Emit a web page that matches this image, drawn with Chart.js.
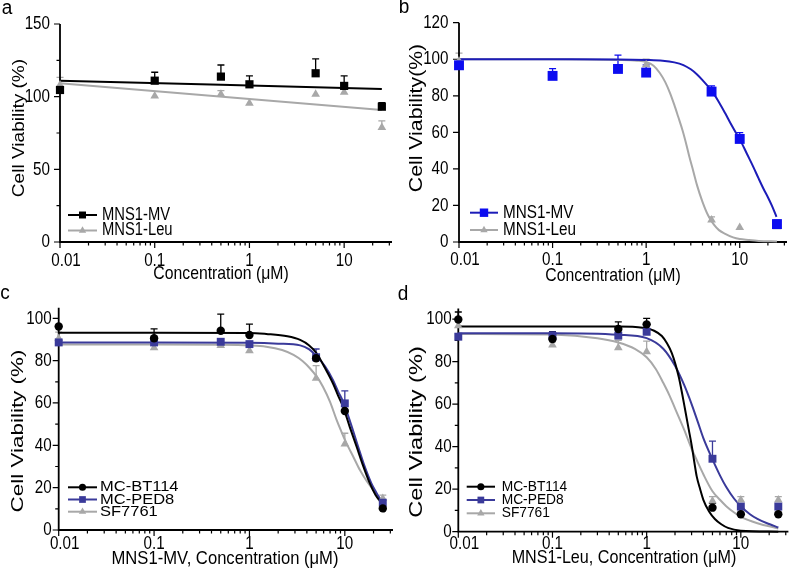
<!DOCTYPE html>
<html>
<head>
<meta charset="utf-8">
<script src="https://cdn.jsdelivr.net/npm/chart.js@4.4.1/dist/chart.umd.min.js"></script>
<style>
    html, body { margin: 0; padding: 0; background: #fff; }
    #wrap { position: relative; width: 794px; height: 571px; }
    canvas { position: absolute; left: 0; top: 0; }
</style>
</head>
<body>
<div id="wrap">
    <canvas id="pa" width="794" height="571"></canvas>
    <canvas id="pb" width="794" height="571"></canvas>
    <canvas id="pc" width="794" height="571"></canvas>
    <canvas id="pd" width="794" height="571"></canvas>
</div>
<script>
// ---- Data ----
const conc = [0.01, 0.1, 0.5, 1, 5, 10, 25];
const xTickValues = [0.01, 0.1, 1, 10];
const xTickLabels = ['0.01', '0.1', '1', '10'];

// a
const aMv = [104.6, 111, 113.8, 108.5, 116.1, 107.4, 93.1];
const aMvErr = [0, 5.8, 8, 5.8, 9.9, 6.9, 2.8];
const aLeu = [108, 100.5, 101.6, 95.4, 101.6, 103, 78.7];
const aLeuErr = [5.3, 0, 2.5, 0, 0, 2.1, 4.6];
const aFitX = [0.01, 25];
const aMvFit = [111, 105.3];
const aLeuFit = [109.2, 90.8];

// b
const bMv = [96.7, 90.9, 94.7, 92.7, 82.3, 56.4, 9.8];
const bMvErr = [0, 4, 7.6, 4.2, 3.1, 3.4, 2.2];
const bLeu = [99, 91, 95, 97, 12, 8, 8.3];
const bLeuErr = [4.3, 0, 0, 3, 1.8, 0, 0];
const bMvFitX = [0.01, 0.1, 0.5, 1, 1.5, 2, 2.5, 3, 3.5, 4, 5, 6, 7, 8, 9, 10, 12, 14, 16, 18, 20, 22, 24.7];
const bMvFit = [100, 100, 99.9, 99.6, 99.2, 98.3, 96.8, 94.5, 91.7, 88.6, 82.8, 76.5, 70.4, 64.8, 60.2, 56.3, 48, 41, 34.5, 29, 24.5, 20, 13.8];
const bLeuFitX = [0.01, 0.1, 0.5, 0.8, 1, 1.2, 1.4, 1.6, 1.8, 2, 2.2, 2.45, 2.7, 2.9, 3.2, 3.5, 4, 4.6, 5.3, 6, 7, 8.5, 10, 12.3, 16, 25];
const bLeuFit = [100, 100, 99.6, 99.2, 98.5, 96.5, 92.5, 87.5, 81.5, 75, 68.5, 61, 53, 46.5, 38.5, 31, 22, 14.5, 9.5, 6.5, 4.5, 2.5, 1.6, 1.1, 0.6, 0.3];

// c
const cBt = [96.1, 90.6, 94.1, 92.1, 81.1, 56.2, 10.2];
const cBtErr = [0, 4.4, 7.9, 5.1, 0, 0, 0];
const cPed = [88.6, 88.6, 88.9, 87.8, 81.6, 59.8, 12.9];
const cPedErr = [0, 0, 0, 0, 3.9, 5.9, 0];
const cSf = [90.5, 86.1, 87.2, 84.7, 71.7, 40.6, 14.9];
const cSfErr = [3, 0, 0, 0, 5.9, 5.1, 1.6];
const cBtFitX = [0.01, 0.1, 1, 1.5, 2.5, 3.4, 4.2, 5.06, 6.2, 7.5, 8.5, 9.6, 11.3, 13.3, 15.5, 18.3, 21, 24.3];
const cBtFit = [93.2, 93.2, 93.1, 92.6, 91.5, 89.8, 87.3, 83.5, 76.5, 69.3, 63.5, 58.2, 48.5, 39.3, 30.5, 22, 16.5, 12.6];
const cPedFitX = [0.01, 0.1, 1, 2, 3.4, 4.2, 4.9, 6.2, 7.5, 8.5, 9.6, 11.5, 13.8, 16, 19, 21.5, 24.3];
const cPedFit = [88.6, 88.6, 88.4, 88, 87.2, 85.4, 82.7, 77.3, 70.9, 65.5, 60.6, 50.5, 39.3, 30.5, 22, 17.5, 13.4];
const cSfFitX = [0.01, 0.1, 0.5, 1, 1.5, 2.2, 2.9, 3.6, 4.3, 5.1, 5.9, 7, 8.2, 9.3, 10.4, 12.3, 14.4, 17, 19.9, 24];
const cSfFit = [87.6, 87.6, 87.5, 87.2, 86.6, 85, 82.7, 79.8, 76.4, 72.3, 67.7, 60.5, 52, 46, 41, 34.5, 28.3, 23, 18.9, 14.2];

// d
const dBt = [99.8, 90.6, 95.3, 97.5, 11.3, 8.2, 8.2];
const dBtErr = [3.5, 3.5, 3.4, 2.8, 2, 0, 0];
const dPed = [91.7, 92, 92.2, 94, 34.3, 11.8, 11.8];
const dPedErr = [0, 2, 0, 0, 8.3, 0, 0];
const dSf = [96.9, 87.8, 86.5, 84.6, 14.4, 14.9, 14.9];
const dSfErr = [0, 1.5, 3.5, 5, 2.1, 1.6, 1.6];
const dBtFitX = [0.01, 0.1, 0.5, 0.91, 1.2, 1.45, 1.65, 1.85, 2.02, 2.2, 2.38, 2.57, 2.8, 3.01, 3.2, 3.4, 3.7, 4, 4.6, 5.3, 6.2, 7.3, 10, 25];
const dBtFit = [96.5, 96.5, 96.5, 95.9, 94.5, 92, 88.5, 84, 78.8, 72.5, 65, 57, 48, 40.5, 33, 26, 20, 15, 9.5, 6, 3.5, 1.8, 0.5, 0];
const dPedFitX = [0.01, 0.1, 0.5, 1, 1.5, 2, 2.5, 3, 3.5, 4, 5, 6, 7, 8.5, 10, 12.5, 15, 20, 25];
const dPedFit = [93.3, 93.3, 92.6, 91, 86, 78, 69, 60, 51.5, 44, 34, 26.5, 21, 15.5, 12, 8.2, 6, 3.6, 2];
const dSfFitX = [0.01, 0.1, 0.3, 0.5, 0.75, 1, 1.25, 1.5, 1.75, 2, 2.5, 3, 3.5, 4, 5, 6, 7, 8.5, 10, 15, 25];
const dSfFit = [93, 92.7, 91, 89, 86, 82, 76.5, 70, 64, 58, 48, 39, 32.5, 27, 19, 15, 12, 9, 7, 4, 1.5];

const BLACK = '#000000';
const GRAY = '#a8a8a8';
const NAVY = '#3a3a9a';
const FONT = '"Liberation Sans", Arial, sans-serif';

// ---- Panels ----
const panels = [
    {
        id: 'pa', letter: 'a', letterPos: [7, 8],
        box: { left: 60, right: 392, top: 24, bottom: 242 },
        yMax: 150, yMajor: [0, 50, 100, 150], yMinor: [25, 75, 125],
        yLabelRight: 50, xLabelY: 261,
        xTitle: 'Concentration (\u03bcM)', xTitlePos: [221, 274], xTitleSx: 0.83,
        yTitle: 'Cell Viability (%)', yTitlePos: [19, 128], yTitleSize: 17, yTitleSx: 1.12,
        legend: { x1: 68, x2: 97, tx: 102, ys: [215, 230.5], size: 18, sx: 0.82 },
        series: [
            { name: 'MNS1-MV', y: aMv, err: aMvErr, fitX: aFitX, fit: aMvFit, color: BLACK, line: BLACK, style: 'rect', r: 5.8 },
            { name: 'MNS1-Leu', y: aLeu, err: aLeuErr, fitX: aFitX, fit: aLeuFit, color: GRAY, line: GRAY, style: 'triangle', r: 5 }
        ]
    },
    {
        id: 'pb', letter: 'b', letterPos: [404, 7],
        box: { left: 459, right: 793, top: 22.7, bottom: 242 },
        yMax: 120, yMajor: [0, 20, 40, 60, 80, 100, 120], yMinor: [],
        yLabelRight: 448.5, xLabelY: 260,
        xTitle: 'Concentration (\u03bcM)', xTitlePos: [613, 276], xTitleSx: 0.83,
        yTitle: 'Cell Viability(%)', yTitlePos: [417, 118], yTitleSize: 18, yTitleSx: 1.18,
        legend: { x1: 470, x2: 498, tx: 503, ys: [212.7, 230], size: 18, sx: 0.85 },
        series: [
            { name: 'MNS1-MV', y: bMv, err: bMvErr, fitX: bMvFitX, fit: bMvFit, color: '#0c0cf0', line: '#1c1cb8', style: 'rect', r: 7 },
            { name: 'MNS1-Leu', y: bLeu, err: bLeuErr, fitX: bLeuFitX, fit: bLeuFit, color: GRAY, line: GRAY, style: 'triangle', r: 5 }
        ]
    },
    {
        id: 'pc', letter: 'c', letterPos: [5, 293],
        box: { left: 58.7, right: 393, top: 307.7, bottom: 530 },
        yMax: 105, yMajor: [0, 20, 40, 60, 80, 100], yMinor: [10, 30, 50, 70, 90],
        yLabelRight: 51.7, xLabelY: 543.3,
        xTitle: 'MNS1-MV, Concentration (\u03bcM)', xTitlePos: [225, 558.3], xTitleSx: 0.875,
        yTitle: 'Cell Viability (%)', yTitlePos: [18.5, 431], yTitleSize: 17, yTitleSx: 1.32,
        legend: { x1: 68, x2: 97, tx: 100, ys: [487.3, 499.5, 511.7], size: 15, sx: 1.1 },
        series: [
            { name: 'MC-BT114', y: cBt, err: cBtErr, fitX: cBtFitX, fit: cBtFit, color: BLACK, line: BLACK, style: 'circle', r: 4.2 },
            { name: 'MC-PED8', y: cPed, err: cPedErr, fitX: cPedFitX, fit: cPedFit, color: NAVY, line: NAVY, style: 'rect', r: 5.6 },
            { name: 'SF7761', y: cSf, err: cSfErr, fitX: cSfFitX, fit: cSfFit, color: GRAY, line: GRAY, style: 'triangle', r: 5 }
        ]
    },
    {
        id: 'pd', letter: 'd', letterPos: [403, 294],
        box: { left: 458.3, right: 790.6, top: 308.4, bottom: 531.7 },
        yMax: 105, yMajor: [0, 20, 40, 60, 80, 100], yMinor: [10, 30, 50, 70, 90],
        yLabelRight: 451.7, xLabelY: 543.3,
        xTitle: 'MNS1-Leu, Concentration (\u03bcM)', xTitlePos: [624, 558], xTitleSx: 0.85,
        yTitle: 'Cell Viability (%)', yTitlePos: [417.5, 432], yTitleSize: 17.5, yTitleSx: 1.35,
        legend: { x1: 466.7, x2: 495, tx: 501.7, ys: [486.7, 500, 513.3], size: 14.5, sx: 0.95 },
        series: [
            { name: 'MC-BT114', y: dBt, err: dBtErr, fitX: dBtFitX, fit: dBtFit, color: BLACK, line: BLACK, style: 'circle', r: 4.2 },
            { name: 'MC-PED8', y: dPed, err: dPedErr, fitX: dPedFitX, fit: dPedFit, color: NAVY, line: NAVY, style: 'rect', r: 5.6 },
            { name: 'SF7761', y: dSf, err: dSfErr, fitX: dSfFitX, fit: dSfFit, color: GRAY, line: GRAY, style: 'triangle', r: 5 }
        ]
    }
];

// ---- Drawing helpers ----
function text(ctx, str, x, y, o) {
    ctx.save();
    ctx.translate(x, y);
    if (o.rot) ctx.rotate(-Math.PI / 2);
    ctx.scale(o.sx || 1, 1);
    ctx.font = `${o.size}px ${FONT}`;
    ctx.fillStyle = '#000';
    ctx.textAlign = o.align || 'center';
    ctx.textBaseline = 'middle';
    ctx.fillText(str, 0, 0);
    ctx.restore();
}

function marker(ctx, style, x, y, r, color) {
    ctx.save();
    ctx.fillStyle = color;
    ctx.beginPath();
    if (style === 'rect') {
        const s = r * Math.SQRT1_2;
        ctx.rect(x - s, y - s, 2 * s, 2 * s);
    } else if (style === 'triangle') {
        ctx.moveTo(x, y - r);
        ctx.lineTo(x + r * 0.866, y + r * 0.5);
        ctx.lineTo(x - r * 0.866, y + r * 0.5);
        ctx.closePath();
    } else {
        ctx.arc(x, y, r, 0, Math.PI * 2);
    }
    ctx.fill();
    ctx.restore();
}

function minorXTicks(min, max) {
    const out = [];
    for (let e = -2; e <= 1; e++) {
        for (let m = 2; m <= 9; m++) {
            const v = m * Math.pow(10, e);
            if (v > min && v <= max) out.push(v);
        }
    }
    return out;
}

function decor(p) {
    return {
        id: 'decor_' + p.id,
        beforeDatasetsDraw(chart) {
            const ctx = chart.ctx;
            const xs = chart.scales.x, ys = chart.scales.y;
            const x0 = xs.getPixelForValue(xs.min), x1 = xs.getPixelForValue(xs.max);
            const y0 = ys.getPixelForValue(0), y1 = ys.getPixelForValue(p.yMax);

            // error bars (upper only)
            ctx.save();
            ctx.lineWidth = 1.3;
            p.series.forEach(s => {
                ctx.strokeStyle = s.color;
                s.err.forEach((e, i) => {
                    if (!e) return;
                    const px = xs.getPixelForValue(conc[i]);
                    const py = ys.getPixelForValue(s.y[i]);
                    const pt = ys.getPixelForValue(s.y[i] + e);
                    ctx.beginPath();
                    ctx.moveTo(px, py);
                    ctx.lineTo(px, pt);
                    ctx.moveTo(px - 3.5, pt);
                    ctx.lineTo(px + 3.5, pt);
                    ctx.stroke();
                });
            });
            ctx.restore();

            // axes
            ctx.save();
            ctx.strokeStyle = '#000';
            ctx.lineWidth = 1.8;
            ctx.beginPath();
            ctx.moveTo(x0, y1);
            ctx.lineTo(x0, y0);
            ctx.lineTo(x1, y0);
            ctx.stroke();
            ctx.lineWidth = 1.2;
            ctx.beginPath();
            p.yMajor.forEach(v => {
                const y = ys.getPixelForValue(v);
                ctx.moveTo(x0, y); ctx.lineTo(x0 - 6, y);
            });
            p.yMinor.forEach(v => {
                const y = ys.getPixelForValue(v);
                ctx.moveTo(x0, y); ctx.lineTo(x0 - 3.5, y);
            });
            xTickValues.forEach(v => {
                const x = xs.getPixelForValue(v);
                ctx.moveTo(x, y0); ctx.lineTo(x, y0 + 6);
            });
            minorXTicks(xs.min, xs.max).forEach(v => {
                const x = xs.getPixelForValue(v);
                ctx.moveTo(x, y0); ctx.lineTo(x, y0 + 3.5);
            });
            ctx.stroke();
            ctx.restore();
        },
        afterDraw(chart) {
            const ctx = chart.ctx;
            const xs = chart.scales.x, ys = chart.scales.y;

            p.yMajor.forEach(v => {
                text(ctx, String(v), p.yLabelRight, ys.getPixelForValue(v), { size: 19, sx: 0.8, align: 'right' });
            });
            xTickValues.forEach((v, i) => {
                const shift = i === 0 ? 6 : 0;
                text(ctx, xTickLabels[i], xs.getPixelForValue(v) + shift, p.xLabelY, { size: 19, sx: 0.8 });
            });
            text(ctx, p.xTitle, p.xTitlePos[0], p.xTitlePos[1], { size: 19, sx: p.xTitleSx });
            text(ctx, p.yTitle, p.yTitlePos[0], p.yTitlePos[1], { size: p.yTitleSize, sx: p.yTitleSx, rot: true });
            text(ctx, p.letter, p.letterPos[0], p.letterPos[1], { size: 20, sx: 0.95 });

            // legend
            const L = p.legend;
            p.series.forEach((s, i) => {
                const y = L.ys[i];
                ctx.save();
                ctx.strokeStyle = s.line;
                ctx.lineWidth = 2;
                ctx.beginPath();
                ctx.moveTo(L.x1, y);
                ctx.lineTo(L.x2, y);
                ctx.stroke();
                ctx.restore();
                marker(ctx, s.style, (L.x1 + L.x2) / 2, y, s.r * 0.85, s.color);
                text(ctx, s.name, L.tx, y, { size: L.size, sx: L.sx, align: 'left' });
            });
        }
    };
}

function makePanel(p) {
    const datasets = [];
    p.series.forEach((s, i) => {
        datasets.push({
            label: s.name,
            data: conc.map((x, j) => ({ x: x, y: s.y[j] })),
            showLine: false,
            pointStyle: s.style,
            pointRadius: s.r,
            pointBackgroundColor: s.color,
            pointBorderColor: s.color,
            pointBorderWidth: 0,
            order: i,
            clip: false
        });
        datasets.push({
            label: s.name + ' fit',
            data: s.fitX.map((x, j) => ({ x: x, y: s.fit[j] })),
            borderColor: s.line,
            borderWidth: 2,
            pointRadius: 0,
            cubicInterpolationMode: 'monotone',
            fill: false,
            order: 10 + i,
            clip: false
        });
    });

    new Chart(document.getElementById(p.id), {
        type: 'line',
        data: { datasets },
        options: {
            responsive: false,
            animation: false,
            events: [],
            layout: {
                padding: { left: p.box.left, right: 794 - p.box.right, top: p.box.top, bottom: 571 - p.box.bottom }
            },
            plugins: { legend: { display: false }, tooltip: { enabled: false } },
            scales: {
                x: { type: 'logarithmic', min: 0.01, max: 32, display: false },
                y: { type: 'linear', min: 0, max: p.yMax, display: false }
            }
        },
        plugins: [decor(p)]
    });
}

panels.forEach(makePanel);
</script>
</body>
</html>
